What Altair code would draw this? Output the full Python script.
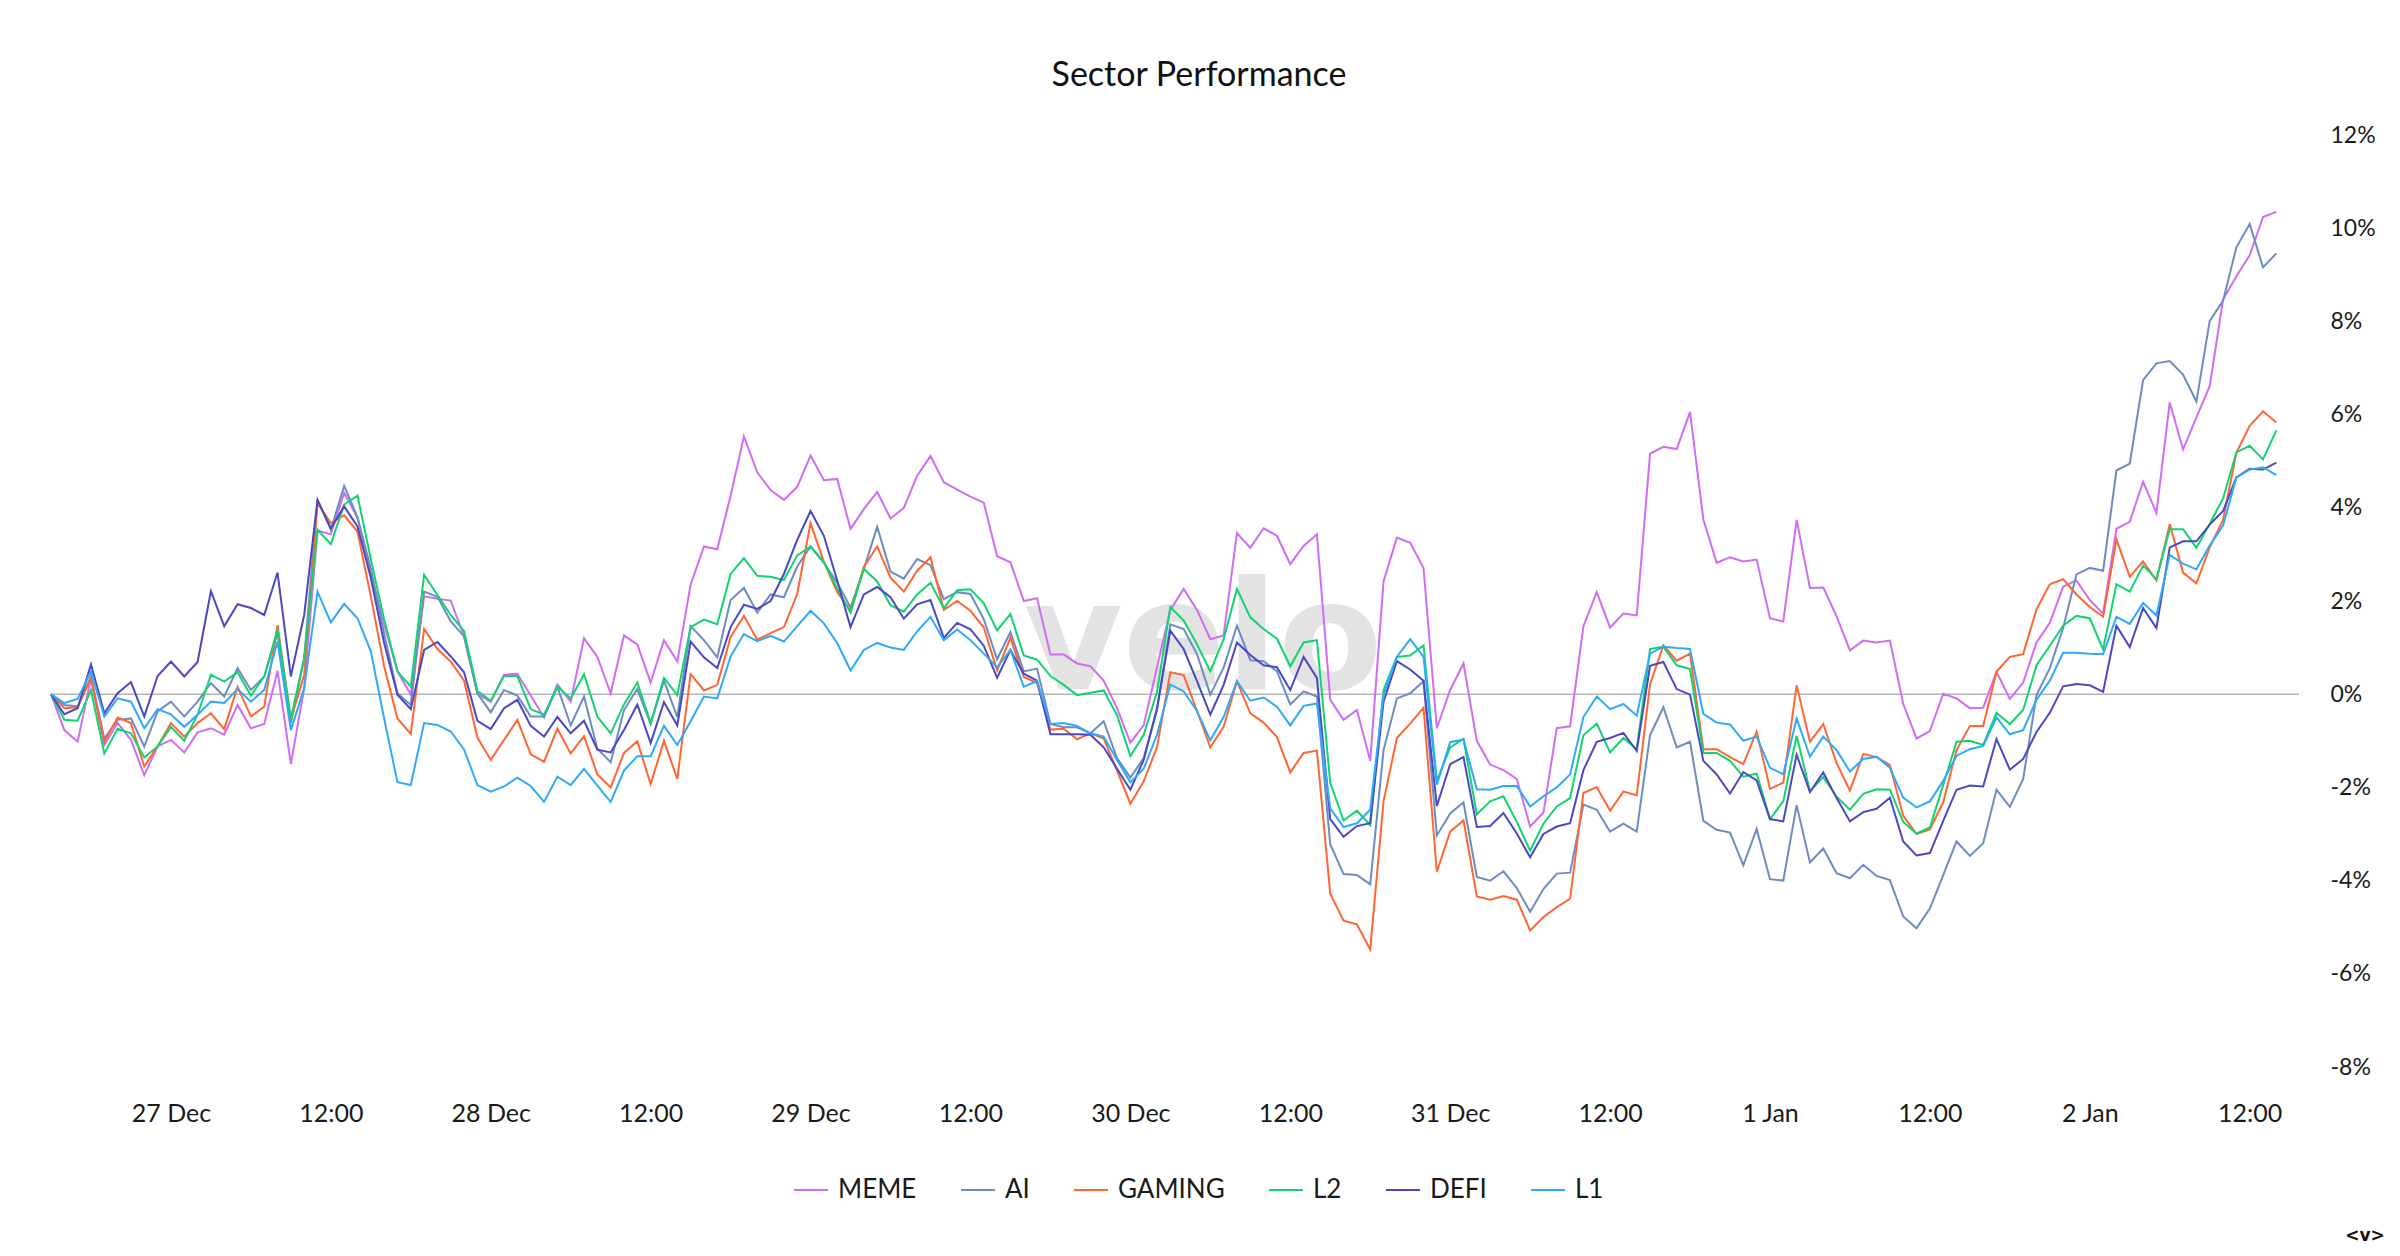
import altair as alt
import pandas as pd

sectors = ["MEME", "AI", "GAMING", "L2", "DEFI", "L1"]
colors = ["#d16cf5", "#6d8dc2", "#ff6633", "#12d46e", "#4b48c3", "#2eaaf8"]

start = "2024-12-26T15:00:00Z"

meme = [0, -0.77, -1.02, 0.34, -1.09, -0.62, -0.98, -1.74, -1.12, -0.98, -1.25, -0.82, -0.73, -0.87, -0.23, -0.73, -0.64, 0.50, -1.50, 0.13,
        3.51, 3.43, 4.32, 3.78, 2.6, 1.5, 0.49, -0.01, 2.10, 2.05, 2.01, 1.24, 0.02, -0.17, 0.42, 0.44, -0.03, -0.50, 0.21, -0.16,
        1.20, 0.80, 0.02, 1.26, 1.07, 0.25, 1.16, 0.70, 2.35, 3.17, 3.11, 4.26, 5.53, 4.76, 4.38, 4.17, 4.45, 5.12, 4.59, 4.62,
        3.55, 3.97, 4.34, 3.77, 4.00, 4.69, 5.11, 4.55, 4.39, 4.24, 4.11, 2.96, 2.83, 2.00, 2.06, 0.85, 0.85, 0.66, 0.60, 0.29,
        -0.30, -1.04, -0.67, 0.58, 1.81, 2.26, 1.81, 1.18, 1.26, 3.46, 3.14, 3.56, 3.40, 2.79, 3.18, 3.43, -0.12, -0.55, -0.34, -1.43,
        2.42, 3.36, 3.25, 2.71, -0.73, 0.09, 0.66, -1.00, -1.51, -1.63, -1.82, -2.84, -2.54, -0.73, -0.69, 1.46, 2.19, 1.43, 1.73, 1.69,
        5.16, 5.31, 5.26, 6.06, 3.75, 2.82, 2.94, 2.85, 2.89, 1.63, 1.56, 3.74, 2.28, 2.29, 1.67, 0.94, 1.15, 1.11, 1.15, -0.21,
        -0.95, -0.79, 0.01, -0.09, -0.30, -0.29, 0.48, -0.10, 0.25, 1.11, 1.53, 2.31, 2.44, 2.02, 1.73, 3.55, 3.70, 4.56, 3.89, 6.26,
        5.25, 5.94, 6.61, 8.47, 8.97, 9.42, 10.24, 10.35]

ai = [0, -0.23, -0.26, 0.38, -0.95, -0.55, -0.52, -1.12, -0.37, -0.16, -0.48, -0.16, 0.24, -0.05, 0.56, 0.09, 0.38, 1.31, -0.62, 0.77,
      4.17, 3.53, 4.47, 3.80, 2.7, 1.3, 0.02, -0.23, 2.20, 2.09, 1.56, 1.24, 0.02, -0.39, 0.09, -0.03, -0.48, -0.48, 0.16, -0.67,
      -0.05, -1.17, -1.46, -0.34, 0.11, -0.64, 0.29, -0.49, 1.46, 1.16, 0.79, 2.02, 2.28, 1.75, 2.14, 2.08, 2.74, 3.17, 2.82, 2.39,
      1.86, 2.69, 3.59, 2.63, 2.48, 2.90, 2.77, 2.04, 2.19, 2.15, 1.61, 0.75, 1.33, 0.49, 0.55, -0.64, -0.71, -0.71, -0.84, -0.58,
      -1.37, -1.79, -1.37, -0.34, 1.50, 1.40, 0.86, -0.01, 0.57, 1.47, 0.73, 0.71, 0.49, -0.22, 0.06, -0.05, -3.22, -3.86, -3.88, -4.08,
      -1.20, -0.09, 0.02, 0.28, -3.03, -2.56, -2.32, -3.92, -4.00, -3.80, -4.16, -4.67, -4.18, -3.85, -3.83, -2.37, -2.48, -2.95, -2.78, -2.95,
      -0.88, -0.28, -1.14, -1.02, -2.72, -2.91, -2.97, -3.67, -2.89, -3.97, -4.00, -2.38, -3.61, -3.31, -3.84, -3.95, -3.66, -3.90, -3.99, -4.77,
      -5.02, -4.60, -3.88, -3.16, -3.47, -3.20, -2.05, -2.42, -1.82, -0.02, 0.56, 1.42, 2.57, 2.71, 2.65, 4.80, 4.95, 6.74, 7.10, 7.15,
      6.86, 6.28, 8.01, 8.44, 9.59, 10.09, 9.16, 9.46]

gaming = [0, -0.30, -0.28, 0.34, -1.02, -0.50, -0.62, -1.55, -1.12, -0.62, -0.91, -0.62, -0.41, -0.75, 0.16, -0.48, -0.27, 1.48, -0.55, 0.41,
          4.10, 3.67, 3.84, 3.49, 2.1, 0.6, -0.52, -0.85, 1.40, 0.97, 0.70, 0.29, -0.93, -1.41, -0.98, -0.55, -1.29, -1.45, -0.74, -1.27,
          -0.90, -1.72, -2.00, -1.26, -1.01, -1.93, -1.00, -1.82, 0.43, 0.08, 0.20, 1.23, 1.68, 1.17, 1.31, 1.44, 2.15, 3.67, 2.84, 2.19,
          1.79, 2.73, 3.17, 2.50, 2.20, 2.65, 2.94, 1.81, 2.00, 1.79, 1.43, 0.51, 1.21, 0.37, 0.24, -0.76, -0.74, -0.97, -0.84, -0.95,
          -1.64, -2.35, -1.87, -1.14, 0.47, 0.41, -0.36, -1.14, -0.70, 0.28, -0.41, -0.61, -0.92, -1.68, -1.26, -1.21, -4.28, -4.86, -4.94, -5.48,
          -2.30, -0.94, -0.63, -0.29, -3.81, -2.95, -2.71, -4.34, -4.41, -4.33, -4.41, -5.07, -4.78, -4.57, -4.39, -2.12, -1.99, -2.50, -2.09, -2.17,
          0.21, 1.05, 0.72, 0.87, -1.18, -1.18, -1.35, -1.50, -0.80, -2.03, -1.90, 0.19, -1.02, -0.64, -1.48, -2.07, -1.28, -1.35, -1.52, -2.61,
          -3.00, -2.90, -2.32, -1.20, -0.68, -0.68, 0.48, 0.80, 0.86, 1.82, 2.36, 2.47, 2.14, 1.87, 1.66, 3.32, 2.52, 2.85, 2.44, 3.65,
          2.61, 2.38, 3.15, 3.74, 5.18, 5.76, 6.07, 5.83]

l2 = [0, -0.55, -0.57, 0.09, -1.27, -0.74, -0.84, -1.36, -1.12, -0.70, -1.00, -0.44, 0.42, 0.27, 0.47, -0.03, 0.38, 1.39, -0.52, 0.77,
      3.53, 3.22, 4.07, 4.26, 2.9, 1.6, 0.49, 0.16, 2.56, 2.13, 1.70, 1.35, 0.07, -0.14, 0.39, 0.39, -0.32, -0.44, 0.16, -0.09,
      0.43, -0.48, -0.84, -0.22, 0.25, -0.62, 0.35, -0.02, 1.44, 1.60, 1.50, 2.58, 2.92, 2.54, 2.52, 2.45, 2.98, 3.17, 2.84, 2.27,
      1.75, 2.69, 2.42, 1.91, 1.77, 2.14, 2.39, 1.84, 2.23, 2.25, 1.95, 1.37, 1.72, 0.83, 0.74, 0.39, 0.20, -0.02, 0.03, 0.08,
      -0.45, -1.33, -0.87, 0.05, 1.87, 1.58, 1.07, 0.49, 1.18, 2.26, 1.65, 1.40, 1.19, 0.60, 1.11, 1.16, -1.90, -2.71, -2.50, -2.81,
      0.09, 0.80, 0.83, 1.05, -1.86, -1.14, -0.96, -2.58, -2.30, -2.19, -2.74, -3.36, -2.78, -2.41, -2.23, -0.88, -0.63, -1.25, -0.94, -1.18,
      0.97, 1.02, 0.62, 0.54, -1.26, -1.26, -1.43, -1.77, -1.70, -2.68, -2.30, -0.89, -2.08, -1.78, -2.20, -2.48, -2.14, -2.04, -2.05, -2.74,
      -2.99, -2.86, -1.95, -1.02, -1.00, -1.09, -0.40, -0.64, -0.34, 0.62, 1.04, 1.47, 1.68, 1.63, 0.96, 2.36, 2.20, 2.76, 2.47, 3.54,
      3.54, 3.14, 3.66, 4.20, 5.19, 5.33, 5.04, 5.66]

defi = [0, -0.43, -0.30, 0.64, -0.41, 0.02, 0.26, -0.48, 0.39, 0.70, 0.38, 0.69, 2.21, 1.46, 1.93, 1.85, 1.70, 2.61, 0.38, 1.70,
        4.17, 3.56, 4.03, 3.60, 2.5, 1.1, -0.01, -0.32, 0.95, 1.12, 0.81, 0.47, -0.57, -0.75, -0.30, -0.12, -0.68, -0.91, -0.49, -0.84,
        -0.57, -1.19, -1.25, -0.77, -0.22, -1.05, -0.17, -0.67, 1.13, 0.79, 0.56, 1.44, 1.92, 1.83, 2.00, 2.58, 3.31, 3.93, 3.40, 2.44,
        1.44, 2.14, 2.30, 2.08, 1.62, 1.93, 2.02, 1.21, 1.53, 1.39, 1.04, 0.35, 0.95, 0.44, 0.29, -0.86, -0.86, -0.86, -0.87, -1.14,
        -1.60, -2.05, -1.41, -0.30, 1.36, 0.97, 0.28, -0.44, 0.20, 1.11, 0.84, 0.62, 0.58, 0.09, 0.80, 0.35, -2.68, -3.06, -2.83, -2.77,
        -0.16, 0.71, 0.53, 0.29, -2.40, -1.50, -1.35, -2.85, -2.83, -2.55, -2.99, -3.50, -3.00, -2.84, -2.77, -1.63, -1.02, -0.94, -0.83, -1.22,
        0.61, 0.69, 0.11, -0.01, -1.43, -1.72, -2.13, -1.67, -1.85, -2.68, -2.73, -1.30, -2.10, -1.68, -2.23, -2.73, -2.53, -2.46, -2.22, -3.16,
        -3.46, -3.41, -2.72, -2.05, -1.96, -1.98, -0.96, -1.62, -1.39, -0.81, -0.40, 0.17, 0.22, 0.19, 0.05, 1.47, 1.01, 1.85, 1.42, 3.15,
        3.28, 3.28, 3.64, 3.93, 4.65, 4.84, 4.82, 4.97]

l1 = [0, -0.19, -0.10, 0.49, -0.48, -0.09, -0.16, -0.73, -0.32, -0.43, -0.70, -0.44, -0.16, -0.19, 0.11, -0.16, 0.09, 1.13, -0.77, 0.13,
      2.20, 1.54, 1.94, 1.63, 0.92, -0.52, -1.89, -1.95, -0.62, -0.66, -0.80, -1.19, -1.95, -2.09, -1.98, -1.79, -1.97, -2.31, -1.77, -1.95,
      -1.60, -1.96, -2.31, -1.64, -1.33, -1.33, -0.68, -1.09, -0.58, -0.05, -0.09, 0.81, 1.29, 1.14, 1.25, 1.13, 1.46, 1.79, 1.52, 1.10,
      0.51, 0.95, 1.10, 1.00, 0.95, 1.35, 1.66, 1.16, 1.39, 1.16, 0.87, 0.58, 0.95, 0.16, 0.28, -0.64, -0.62, -0.68, -0.84, -0.91,
      -1.41, -1.89, -1.60, -0.87, 0.21, 0.06, -0.36, -0.99, -0.49, 0.28, -0.14, -0.07, -0.27, -0.67, -0.25, -0.20, -2.45, -2.85, -2.77, -2.48,
      -0.01, 0.80, 1.18, 0.80, -1.94, -1.03, -0.97, -2.04, -2.05, -1.97, -1.97, -2.41, -2.19, -2.00, -1.72, -0.49, -0.05, -0.32, -0.21, -0.46,
      0.87, 1.02, 0.99, 0.97, -0.42, -0.61, -0.65, -1.00, -0.91, -1.58, -1.72, -0.52, -1.34, -0.91, -1.20, -1.66, -1.39, -1.34, -1.58, -2.22,
      -2.43, -2.30, -1.86, -1.32, -1.18, -1.11, -0.50, -0.86, -0.77, -0.12, 0.29, 0.89, 0.89, 0.87, 0.86, 1.66, 1.51, 1.96, 1.69, 2.99,
      2.80, 2.68, 3.19, 3.62, 4.65, 4.82, 4.87, 4.70]

y_ticks = [-8, -6, -4, -2, 0, 2, 4, 6, 8, 10, 12]

series = {"MEME": meme, "AI": ai, "GAMING": gaming, "L2": l2, "DEFI": defi, "L1": l1}
t0 = pd.Timestamp(start)
rows = []
for name in sectors:
    vals = series[name]
    for i, v in enumerate(vals):
        rows.append({"time": (t0 + pd.Timedelta(hours=i)).strftime("%Y-%m-%dT%H:%M:%SZ"),
                     "sector": name, "value": v})
df = pd.DataFrame(rows)

ms = lambda ts: int(ts.value // 10**6)
x_domain = [ms(t0), ms(t0 + pd.Timedelta(hours=168.7))]
x_ticks = [ms(pd.Timestamp("2024-12-27T00:00:00Z") + pd.Timedelta(hours=12 * i)) for i in range(14)]

FONT = "Lato"

watermark = alt.Chart(pd.DataFrame({"t": ["velo"]})).mark_text(
    font="DejaVu Sans", fontWeight="bold", fontSize=152, color="#e3e3e3",
    align="center", baseline="alphabetic"
).encode(x=alt.value(1152), y=alt.value(554), text="t:N")

zero = alt.Chart(pd.DataFrame({"v": [0]})).mark_rule(
    color="#b5b5b5", strokeWidth=1.5
).encode(y=alt.Y("v:Q"))

lines = alt.Chart(df).mark_line(strokeWidth=2).encode(
    x=alt.X("time:T",
            scale=alt.Scale(type="utc", domain=x_domain),
            axis=alt.Axis(values=x_ticks, title=None, grid=False, domain=False, ticks=False, tickSize=0,
                          labelPadding=34, labelFontSize=25, labelFont=FONT, labelColor="#1a1a1a",
                          labelExpr="utchours(datum.value) == 0 ? utcFormat(datum.value, '%-d %b') : utcFormat(datum.value, '%H:%M')")),
    y=alt.Y("value:Q",
            scale=alt.Scale(domain=[-8, 12], nice=False, zero=False),
            axis=alt.Axis(orient="right", values=y_ticks, title=None, grid=False, domain=False, ticks=False,
                          tickSize=0, labelPadding=31, labelFontSize=23, labelFont=FONT, labelColor="#1a1a1a",
                          labelAlign="left", labelExpr="datum.value + '%'")),
    color=alt.Color("sector:N", scale=alt.Scale(domain=sectors, range=colors),
                    legend=alt.Legend(title=None, orient="none", legendX=742, legendY=1037,
                                      direction="horizontal", symbolType="stroke", symbolSize=1156,
                                      symbolStrokeWidth=2, labelFontSize=26, labelFont=FONT,
                                      labelColor="#1a1a1a", labelOffset=9, columnPadding=40)),
    detail="sector:N",
)

logo = alt.Chart(pd.DataFrame({"t": ["<v>"]})).mark_text(
    font="DejaVu Sans", fontWeight="bold", fontSize=17, color="#111111", align="center", baseline="middle"
).encode(x=alt.value(2314), y=alt.value(1101), text="t:N")

chart = alt.layer(watermark, zero, lines, logo).properties(
    width=2248, height=932,
    title=alt.TitleParams("Sector Performance", font=FONT, fontSize=34, fontWeight="normal",
                          color="#111111", anchor="middle", frame="group", baseline="bottom",
                          offset=-3, dx=24),
    padding={"left": 43, "top": 127, "right": 93, "bottom": 181},
    autosize=alt.AutoSizeParams(type="none"),
).configure_view(stroke=None)

chart.save("out.html", embed_options={"renderer": "svg", "actions": False})
